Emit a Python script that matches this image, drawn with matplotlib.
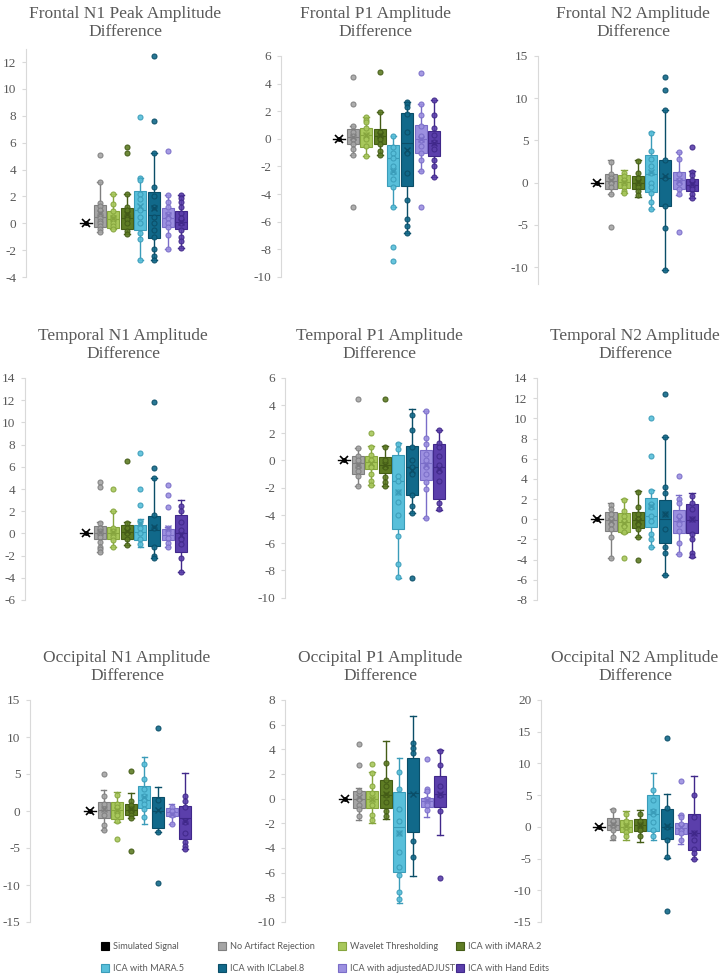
import matplotlib
matplotlib.use("Agg")
import matplotlib.pyplot as plt
import numpy as np

W, H = 724, 980
TITLES = ["Frontal N1 Peak Amplitude\nDifference", "Frontal P1 Amplitude\nDifference",
          "Frontal N2 Amplitude\nDifference",
          "Temporal N1 Amplitude\nDifference", "Temporal P1 Amplitude\nDifference",
          "Temporal N2 Amplitude\nDifference",
          "Occipital N1 Amplitude\nDifference", "Occipital P1 Amplitude\nDifference",
          "Occipital N2 Amplitude\nDifference"]
GROUPS = ["Simulated Signal", "No Artifact Rejection", "Wavelet Thresholding", "ICA with iMARA.2",
          "ICA with MARA.5", "ICA with ICLabel.8", "ICA with adjustedADJUST", "ICA with Hand Edits"]
FACE = ["#000000", "#a5a5a5", "#a8c85c", "#5e7c24", "#58bfda", "#11698a", "#9c90e0", "#5b3fab"]
EDGE = ["#000000", "#7f7f7f", "#86a53e", "#445c16", "#3a9cb9", "#0a4e68", "#7a6dc8", "#40288a"]

SIM_VALUE = 0.0
YLIMS = [(-4, 13), (-10, 6), (-12, 15), (-6, 14), (-10, 6), (-8, 14), (-15, 15), (-10, 8), (-15, 20)]
YTICKS = [np.arange(-4, 13, 2), np.arange(-10, 7, 2), np.arange(-10, 16, 5),
          np.arange(-6, 15, 2), np.arange(-10, 7, 2), np.arange(-8, 15, 2),
          np.arange(-15, 16, 5), np.arange(-10, 9, 2), np.arange(-15, 21, 5)]

Q1S = [[-0.27, -0.35, -0.45, -0.52, -1.07, -0.27, -0.42],
       [-0.39, -0.58, -0.39, -3.4, -3.4, -0.99, -1.26],
       [-0.71, -0.63, -0.71, -1.1, -2.77, -0.75, -0.99],
       [-0.53, -0.53, -0.53, -0.59, -1.13, -0.59, -1.64],
       [-0.96, -0.62, -0.9, -4.96, -2.53, -1.44, -2.78],
       [-1.12, -1.22, -0.89, -0.73, -2.38, -1.32, -1.39],
       [-0.88, -1.1, -0.56, 0.34, -2.32, -0.65, -3.72],
       [-0.72, -0.72, -0.74, -5.94, -2.69, -0.66, -0.66],
       [-0.53, -0.79, -0.63, -0.63, -1.9, -1.05, -3.68]]
Q3S = [[1.34, 0.92, 1.17, 2.38, 2.33, 1.1, 0.92],
       [0.75, 0.82, 0.7, -0.46, 1.84, 0.97, 0.56],
       [1.07, 0.87, 0.79, 3.24, 2.65, 1.23, 0.47],
       [0.68, 0.62, 0.77, 0.77, 1.61, 0.38, 1.67],
       [0.3, 0.35, 0.23, 0.38, 1.03, 0.79, 1.2],
       [0.76, 0.6, 0.76, 2.08, 1.92, 0.93, 1.49],
       [1.15, 1.15, 1.01, 3.4, 1.83, 0.47, 0.74],
       [0.61, 0.64, 1.5, 0.55, 3.26, 0.09, 1.85],
       [1.42, 1.05, 1.21, 5.0, 2.84, 0.63, 2.0]]
WHISK_LO = [[-0.65, -0.4, -0.8, -2.7, -2.7, -1.9, -1.84],
            [-1.18, -1.26, -1.18, -4.93, -6.8, -2.3, -2.75],
            [-1.3, -1.23, -1.7, -3.1, -10.3, -1.5, -1.78],
            [-1.7, -1.25, -1.04, -1.19, -2.24, -1.2, -3.44],
            [-1.88, -1.76, -1.88, -8.55, -3.82, -4.18, -3.58],
            [-3.87, -1.39, -1.72, -2.71, -5.52, -3.47, -3.7],
            [-2.5, -1.47, -0.88, -1.78, -2.86, -1.69, -5.07],
            [-1.69, -1.94, -1.66, -8.46, -6.3, -1.48, -2.96],
            [-2.1, -2.1, -2.37, -2.1, -4.84, -2.63, -5.0]]
WHISK_HI = [[3.08, 2.2, 2.2, 3.37, 5.2, 2.08, 2.08],
            [0.9, 1.55, 1.96, 0.2, 2.68, 2.49, 2.8],
            [2.73, 1.46, 2.65, 5.97, 8.66, 3.64, 1.38],
            [1.0, 2.03, 1.07, 1.28, 4.98, 0.56, 3.02],
            [0.9, 1.08, 1.08, 1.27, 3.75, 3.58, 2.24],
            [1.59, 2.0, 2.81, 2.91, 8.14, 2.41, 2.58],
            [2.82, 2.6, 2.37, 7.33, 3.18, 1.01, 5.07],
            [0.83, 2.18, 4.67, 3.26, 6.73, 0.58, 3.94],
            [2.84, 2.53, 2.63, 8.53, 5.16, 1.84, 8.05]]
MEDIANS = [[0.5, 0.3, 0.4, 1.0, 0.6, 0.4, 0.1],
           [0.1, 0.3, 0.2, -1.4, -0.3, 0.0, -0.3],
           [0.2, 0.1, 0.0, 1.0, 0.5, 0.3, -0.3],
           [0.0, 0.0, 0.1, 0.1, 0.3, -0.1, 0.0],
           [-0.2, -0.1, -0.3, -1.47, -0.5, -0.2, -0.5],
           [-0.1, -0.3, -0.1, 0.3, 0.0, -0.2, -0.1],
           [0.2, 0.1, 0.2, 1.5, 0.0, -0.2, -1.0],
           [0.0, 0.0, 0.3, -2.3, 0.5, -0.2, 0.4],
           [0.3, 0.0, 0.3, 2.0, 0.0, -0.2, -1.0]]
MEANS = [[0.75, 0.4, 0.7, 1.3, 1.1, 0.6, 0.1],
         [0.1, 0.3, 0.3, -2.3, -0.8, 0.0, -0.3],
         [0.3, 0.1, 0.1, 1.3, 0.8, 0.2, -0.2],
         [0.1, 0.1, 0.2, 0.9, 0.6, 0.5, -0.1],
         [-0.3, -0.2, -0.3, -2.3, -0.7, -0.3, -0.6],
         [-0.2, -0.4, -0.2, 1.3, 0.5, 0.0, 0.0],
         [0.3, 0.2, 0.3, 1.9, 0.2, -0.4, -1.3],
         [0.1, 0.0, 0.4, -2.8, 0.4, -0.1, 0.4],
         [0.4, 0.1, 0.3, 2.3, 0.2, 0.0, -1.0]]
POINTS = [
    [[5.1, 3.1, 1.5, 1.3, 1.0, 0.7, 0.4, 0.2, 0.0, -0.2, -0.4, -0.65],
     [2.2, 1.4, 0.9, 0.5, 0.3, 0.0, -0.2, -0.4],
     [5.7, 5.25, 2.2, 1.2, 1.0, 0.6, 0.3, 0.0, -0.6, -0.8],
     [7.9, 3.37, 3.2, 2.2, 1.8, 1.0, 0.5, 0.0, -0.7, -1.2, -2.7],
     [12.45, 7.6, 5.2, 2.7, 2.0, 1.2, 0.5, 0.0, -0.5, -1.0, -1.9, -2.4, -2.7],
     [5.4, 2.08, 1.6, 1.2, 0.7, 0.4, 0.0, -0.3, -0.9, -1.9],
     [2.08, 1.9, 1.6, 1.2, 0.8, 0.4, 0.0, -0.5, -1.0, -1.3, -1.84]],
    [[4.5, 2.5, 0.9, 0.5, 0.2, 0.0, -0.4, -0.7, -1.18, -4.9],
     [1.55, 1.4, 1.2, 0.8, 0.3, 0.0, -0.5, -1.26],
     [4.85, 1.96, 0.5, 0.2, 0.0, -0.4, -0.9, -1.18],
     [0.2, -0.6, -1.0, -1.4, -2.0, -2.4, -2.9, -3.5, -4.93, -7.85, -8.85],
     [2.68, 2.5, 2.3, 1.8, 0.5, -1.0, -2.5, -4.45, -5.8, -6.3, -6.8],
     [4.8, 2.49, 1.7, 0.9, 0.2, -0.1, -0.5, -1.0, -1.5, -2.3, -4.9],
     [2.8, 1.7, 0.8, 0.3, -0.2, -0.7, -1.5, -2.0, -2.75]],
    [[2.5, 1.0, 0.5, 0.0, -0.5, -1.3, -5.3],
     [1.2, 0.8, 0.3, 0.0, -0.5, -1.0, -1.23],
     [2.6, 1.2, 0.5, 0.0, -0.5, -1.0, -1.5],
     [5.9, 3.8, 2.8, 2.0, 1.2, 0.0, -0.5, -1.2, -2.3, -3.1],
     [12.5, 11.0, 8.66, 2.65, 0.5, -2.77, -5.4, -10.3],
     [3.6, 2.8, 1.0, 0.3, 0.0, -0.8, -1.4, -5.9],
     [4.2, 1.3, 0.9, 0.3, -0.3, -0.8, -1.3, -1.78]],
    [[4.6, 4.2, 0.9, 0.5, 0.2, 0.0, -0.3, -0.8, -1.2, -1.4, -1.7],
     [4.0, 2.0, 0.5, 0.2, -0.3, -0.6, -1.25],
     [6.5, 0.9, 0.5, 0.0, -0.5, -1.04],
     [7.2, 4.0, 2.6, 1.0, 0.5, 0.0, -0.5, -1.0],
     [11.8, 5.9, 4.98, 1.7, 0.5, -1.2, -2.0, -2.24],
     [4.4, 3.5, 2.4, 0.5, 0.0, -0.4, -0.9, -1.2],
     [2.5, 2.0, 1.0, 0.3, -0.5, -1.0, -2.2, -3.44]],
    [[4.5, 0.9, 0.3, 0.0, -0.4, -0.8, -1.1, -1.88],
     [2.0, 1.0, 0.4, 0.0, -0.5, -1.0, -1.5, -1.76],
     [4.5, 1.0, 0.0, -0.5, -1.2, -1.6, -1.88],
     [1.2, 0.8, -1.1, -1.5, -2.3, -3.0, -4.0, -5.5, -7.5, -8.5],
     [3.3, 2.2, 1.0, 0.0, -0.5, -1.0, -2.5, -3.3, -3.82, -8.55],
     [3.58, 1.6, 1.2, 0.5, 0.0, -0.5, -1.0, -1.6, -2.1, -4.18],
     [2.24, 1.3, 1.0, 0.3, -0.3, -0.8, -1.5, -3.1, -3.5]],
    [[1.4, 1.0, 0.5, 0.0, -0.5, -1.0, -1.8, -3.87],
     [1.9, 0.8, 0.3, -0.2, -0.7, -1.3, -3.8],
     [2.7, 1.2, 0.5, 0.0, -0.5, -1.0, -1.8, -4.0],
     [10.0, 6.3, 2.8, 1.5, 1.2, 0.3, -0.2, -1.5, -2.0, -2.71],
     [12.4, 8.14, 3.2, 2.6, 0.5, -1.0, -2.7, -3.3, -5.52],
     [4.3, 2.0, 1.6, 0.3, -0.5, -1.2, -2.4, -3.47],
     [2.3, 1.6, 1.0, 0.0, -1.5, -2.0, -3.3, -3.6]],
    [[5.0, 2.0, 1.0, 0.3, -0.5, -1.9, -2.5],
     [2.1, 1.0, 0.5, 0.0, -0.5, -1.4, -3.8],
     [5.4, 1.4, 0.8, 0.3, 0.0, -0.5, -0.88, -5.4],
     [6.4, 4.3, 3.0, 2.0, 1.5, 1.0, 0.3, -0.8],
     [11.2, 1.5, -2.9, -9.7],
     [0.5, 0.0, -0.5, -1.7],
     [2.0, 1.4, 0.5, -1.5, -3.0, -4.2, -4.7, -5.1]],
    [[4.4, 2.7, 0.6, 0.0, -0.5, -0.8, -1.4],
     [2.8, 2.1, 1.0, 0.5, 0.0, -0.5, -1.3, -1.7],
     [2.9, 1.5, 1.0, 0.3, -0.3, -1.0, -1.4],
     [2.2, 0.8, -0.8, -1.8, -2.8, -4.3, -5.5, -6.2, -7.6, -8.1],
     [4.5, 4.1, 3.7, -3.4, -4.7],
     [3.2, 0.8, 0.6, 0.0, -0.5, -0.9],
     [3.9, 2.7, 1.0, 0.3, -1.0, -6.4]],
    [[2.6, 1.0, 0.3, -0.5, -1.6],
     [2.0, 1.0, 0.0, -0.8, -1.5],
     [2.0, 1.0, 0.3, -0.5, -1.4],
     [5.8, 4.2, 2.5, 2.0, 0.8, -0.5, -1.5],
     [14.0, 3.0, 0.0, -2.0, -4.8, -13.2],
     [7.2, 1.8, 1.5, 0.5, -0.5, -1.0, -2.0],
     [5.1, 1.5, -1.0, -2.0, -3.5, -4.2, -5.0]],
]

# ---- layout (pixels) ----
AX_LEFT = [26, 281, 538, 25, 285, 537, 30, 285, 541]
AX_TOP = [48.6, 56, 56, 378, 378, 378, 700, 700, 700]
AX_BOT = [277, 277, 284, 600, 598, 600, 922, 922, 922]
SIM_X = [86, 339, 597, 86, 344, 597, 90, 345, 599]
TITLE_X = [125, 375, 633, 123, 379, 635, 127, 380, 635]
TITLE_Y = [23, 23, 23, 345, 345, 345, 667, 667, 667]
SPACING = 13.6
AX_W = 190

GRAY_TXT = "#595959"
AXIS_COL = "#d9d9d9"

fig = plt.figure(figsize=(W / 100, H / 100), dpi=100)

for i in range(9):
    l, t, b = AX_LEFT[i], AX_TOP[i], AX_BOT[i]
    ax = fig.add_axes([l / W, 1 - b / H, AX_W / W, (b - t) / H])
    ax.patch.set_alpha(0)

    # simulated signal
    ax.plot([-0.42, 0.42], [SIM_VALUE, SIM_VALUE], color="black", lw=1.0, zorder=3)
    ax.plot([0], [SIM_VALUE], marker="x", ms=6, mew=1.2, color="black", zorder=4)
    ax.plot([0], [SIM_VALUE], marker="o", ms=2.5, color="black", zorder=4)

    stats = []
    for g in range(7):
        stats.append(dict(q1=Q1S[i][g], med=MEDIANS[i][g], q3=Q3S[i][g],
                          whislo=WHISK_LO[i][g], whishi=WHISK_HI[i][g],
                          mean=MEANS[i][g], fliers=[]))
    positions = np.arange(1, 8)
    bp = ax.bxp(stats, positions=positions, widths=0.88, patch_artist=True,
                showmeans=True, showfliers=False, capwidths=0.42, manage_ticks=False)
    for g in range(7):
        fc, ec = FACE[g + 1], EDGE[g + 1]
        bp["boxes"][g].set(facecolor=fc, edgecolor=ec, linewidth=0.8, zorder=2)
        bp["medians"][g].set(color=ec, linewidth=0.8, zorder=3)
        for k in (2 * g, 2 * g + 1):
            bp["whiskers"][k].set(color=ec, linewidth=1.0, zorder=1)
            bp["caps"][k].set(color=ec, linewidth=1.0, zorder=1)
        bp["means"][g].set(marker="x", markersize=5, markeredgecolor=ec,
                           markeredgewidth=1.0, zorder=5)
        pts = POINTS[i][g]
        ax.plot(np.full(len(pts), positions[g]), pts, linestyle="none", marker="o",
                ms=3.6, markerfacecolor=fc, markeredgecolor=ec, markeredgewidth=0.8,
                alpha=0.9, zorder=4)

    x0 = -(SIM_X[i] - l) / SPACING
    ax.set_xlim(x0, x0 + AX_W / SPACING)
    ax.set_ylim(*YLIMS[i])
    ax.set_xticks([])
    ax.set_yticks(YTICKS[i])
    ax.set_yticklabels([f"{v:g}" for v in YTICKS[i]], family="Liberation Serif",
                       fontsize=9.5, color=GRAY_TXT)
    for s in ["top", "right", "bottom"]:
        ax.spines[s].set_visible(False)
    ax.spines["left"].set_color(AXIS_COL)
    ax.spines["left"].set_linewidth(0.8)
    ax.tick_params(axis="y", length=3, color=AXIS_COL, pad=4)

    fig.text(TITLE_X[i] / W, 1 - TITLE_Y[i] / H, TITLES[i], ha="center", va="center",
             family="Liberation Serif", fontsize=12.5, color=GRAY_TXT, linespacing=1.25)

# ---- legend (manual, evenly spaced like the original) ----
LEG_X = [105, 222, 342, 460]
LEG_Y = [946, 968]
lax = fig.add_axes([0, 0, 1, 1])
lax.set_xlim(0, W)
lax.set_ylim(H, 0)
lax.axis("off")
for k, name in enumerate(GROUPS):
    r, c = divmod(k, 4)
    x, y = LEG_X[c], LEG_Y[r]
    lax.plot([x], [y], marker="s", ms=5.5, markerfacecolor=FACE[k],
             markeredgecolor=EDGE[k], markeredgewidth=0.8, linestyle="none")
    lax.text(x + 8, y, name, ha="left", va="center", family="Lato",
             fontsize=6.6, color=GRAY_TXT)

fig.savefig("out.png", dpi=100)
